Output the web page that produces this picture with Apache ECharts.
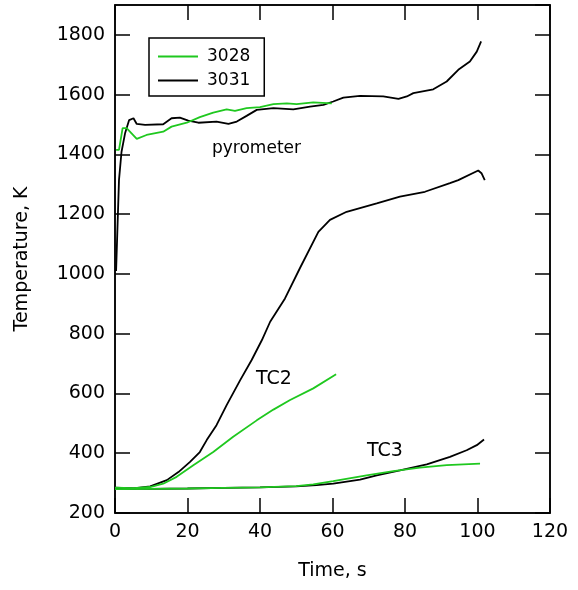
<!DOCTYPE html>
<html>
<head>
<meta charset="utf-8">
<script src="https://cdn.jsdelivr.net/npm/echarts@6/dist/echarts.min.js"></script>
<style>html,body{margin:0;padding:0;background:#fff}#c{width:578px;height:590px}</style>
</head>
<body>
<div id="c"></div>
<script>
// Data (time s, temperature K)
const pyro3031 = [[0.3,1010],[1.1,1314],[1.8,1409],[2.8,1472],[3.9,1515],[5.1,1521],[6,1502],[8.3,1499],[13.3,1501],[15.6,1521],[17.9,1523],[20.2,1513],[23,1506],[28,1510],[31.3,1502],[33.6,1510],[36.3,1529],[39.1,1549],[43.7,1555],[49.2,1551],[53.8,1560],[57.5,1566],[60.2,1577],[63,1590],[67.6,1596],[74,1594],[78.2,1586],[80.5,1594],[82.3,1605],[87.8,1618],[91.5,1644],[94.7,1683],[97.9,1711],[99.8,1744],[101,1778]];
const pyro3028 = [[0.3,1415],[1.1,1415],[2.1,1488],[3.2,1488],[6,1452],[8.7,1465],[13.3,1476],[15.6,1493],[19.8,1506],[23.4,1525],[27.1,1540],[30.8,1551],[33.1,1546],[36.3,1555],[40,1558],[43.7,1568],[47.4,1571],[50.1,1568],[54.7,1574],[59.8,1571]];
const tc2_3031 = [[0,285],[5.1,282],[9.7,289],[14.3,310],[17.5,337],[20.7,371],[23.4,404],[25.3,444],[28,494],[30.8,561],[34.5,644],[37.7,712],[40.5,778],[42.8,840],[46.9,918],[51,1019],[56.1,1141],[59.3,1181],[63.9,1208],[72.2,1236],[78.6,1259],[85.5,1275],[92.4,1304],[94.7,1314],[100.2,1346],[101.1,1337],[102,1314]];
const tc2_3028 = [[0,285],[5,283],[9.7,287],[13.3,298],[17,321],[21.6,360],[27.1,404],[32.6,455],[39.1,510],[43.7,546],[48.3,578],[54.7,617],[61,664]];
const tc3_3031 = [[0,282],[10,281],[20,282],[30,284],[40,286],[50,289],[55.6,293],[60.2,298],[67.6,312],[72.2,326],[78.6,343],[86,363],[92.4,388],[97,410],[99.8,427],[101.8,446]];
const tc3_3028 = [[0,280],[10,281],[20,282],[30,284],[40,286],[50,290],[54.7,296],[60.2,307],[69.4,326],[76.8,340],[84.1,352],[91.5,360],[100.7,365]];
const xTicks = {min: 0, max: 120, interval: 20};
const yTicks = {min: 200, max: 1900, interval: 200};
const legendNames = ['3028', '3031'];
const annotations = ['pyrometer', 'TC2', 'TC3'];

const GREEN = '#1fc81f', BLACK = '#000';
const FONT = 'DejaVu Sans';
const chart = echarts.init(document.getElementById('c'));
function mk(name, data, color, z) {
  return {name, type: 'line', data, showSymbol: false, symbol: 'none',
    lineStyle: {color, width: 1.8}, itemStyle: {color}, z, animation: false};
}
const tickStyle = {show: true, inside: true, length: 15, lineStyle: {color: '#000', width: 1.5}};
const lineStyleAx = {show: true, onZero: false, lineStyle: {color: '#000', width: 1.5}};
chart.setOption({
  animation: false,
  grid: {left: 115, right: 28, top: 5, bottom: 77, show: true, borderColor: '#000', borderWidth: 1.5},
  legend: {
    show: true,
    data: legendNames, orient: 'vertical', left: 149, top: 38, itemWidth: 40, itemHeight: 2,
    icon: 'rect', itemGap: 7, padding: [10, 14, 7, 9], borderColor: '#000', borderWidth: 1.5, backgroundColor: '#fff',
    selectedMode: false,
    textStyle: {fontFamily: FONT, fontSize: 17, color: '#000', padding: [0, 0, 0, 4]}
  },
  xAxis: [
    {type: 'value', position: 'bottom', ...xTicks, name: 'Time, s', nameLocation: 'middle', nameGap: 49,
     nameTextStyle: {fontFamily: FONT, fontSize: 19, color: '#000'},
     axisLine: lineStyleAx, axisTick: tickStyle, splitLine: {show: false},
     axisLabel: {fontFamily: FONT, fontSize: 19, color: '#000', margin: 10}},
    {type: 'value', position: 'top', ...xTicks,
     axisLine: lineStyleAx, axisTick: tickStyle, splitLine: {show: false}, axisLabel: {show: false}}
  ],
  yAxis: [
    {type: 'value', position: 'left', ...yTicks, name: 'Temperature, K', nameLocation: 'middle', nameGap: 83,
     nameTextStyle: {fontFamily: FONT, fontSize: 19, color: '#000'},
     axisLine: lineStyleAx, axisTick: tickStyle, splitLine: {show: false},
     axisLabel: {fontFamily: FONT, fontSize: 19, color: '#000', margin: 10, showMaxLabel: false,
       formatter: v => String(v)}},
    {type: 'value', position: 'right', ...yTicks,
     axisLine: lineStyleAx, axisTick: tickStyle, splitLine: {show: false}, axisLabel: {show: false}}
  ],
  graphic: [
    {type: 'text', left: 212, top: 140, style: {text: annotations[0], fontFamily: FONT, fontSize: 17, fill: '#000'}},
    {type: 'text', left: 256, top: 370, style: {text: annotations[1], fontFamily: FONT, fontSize: 19, fill: '#000'}},
    {type: 'text', left: 367, top: 442, style: {text: annotations[2], fontFamily: FONT, fontSize: 19, fill: '#000'}}
  ],
  series: [
    mk('3031', pyro3031, BLACK, 3),
    mk('3028', pyro3028, GREEN, 4),
    mk('3031', tc2_3031, BLACK, 3),
    mk('3028', tc2_3028, GREEN, 4),
    mk('3031', tc3_3031, BLACK, 3),
    mk('3028', tc3_3028, GREEN, 4)
  ]
});
</script>
</body>
</html>
